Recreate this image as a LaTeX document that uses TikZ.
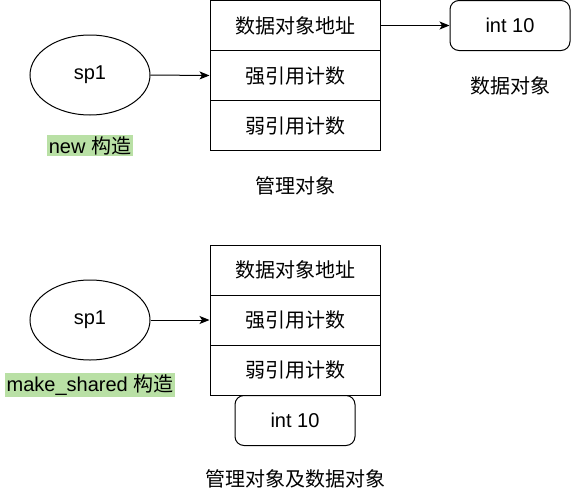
\documentclass[tikz,border=0pt]{standalone}
\usepackage{fontspec}
\setmainfont{Liberation Sans}
\newfontfamily\cjk{Noto Sans CJK SC}
\usetikzlibrary{arrows.meta,shapes.geometric}
\definecolor{lblgreen}{HTML}{B9E0A5}
\tikzset{
  every node/.style={font=\fontsize{20}{24}\selectfont},
  cell/.style={draw, line width=1pt, minimum width=170pt, minimum height=50pt, inner sep=0pt, font=\cjk\fontsize{20}{24}\selectfont},
  ptr/.style={draw, ellipse, line width=1pt, minimum width=120pt, minimum height=80pt, inner sep=0pt},
  databox/.style={draw, rounded corners=9pt, line width=1pt, minimum width=120pt, minimum height=50pt, inner sep=0pt},
  caption/.style={inner sep=0pt, font=\cjk\fontsize{20}{24}\selectfont},
  greenlbl/.style={fill=lblgreen, inner sep=1.5pt},
  conn/.style={line width=1pt, -{Stealth[length=10pt,width=8pt,inset=2.5pt]}}
}
\begin{document}
\begin{tikzpicture}[x=1pt,y=-1pt]
\useasboundingbox (0,0) rectangle (571,493);
% top diagram
\node[cell] (a1) at (295,25.5) {数据对象地址};
\node[cell] (a2) at (295,75.5) {强引用计数};
\node[cell] (a3) at (295,125.5) {弱引用计数};
\node[ptr] (p1) at (90,75) {sp1};
\node[greenlbl] (l1) at (90,145.5) {new {\cjk 构造}};
\node[databox] (d1) at (510,25.5) {int 10};
\node[caption] (c1) at (510,86) {数据对象};
\node[caption] (c2) at (295,186) {管理对象};
\draw[conn] (p1.east) -- (a2.west);
\draw[conn] (a1.east) -- (d1.west);
% bottom diagram
\node[cell] (b1) at (295,270) {数据对象地址};
\node[cell] (b2) at (295,320) {强引用计数};
\node[cell] (b3) at (295,370) {弱引用计数};
\node[ptr] (p2) at (90,320) {sp1};
\node[greenlbl] (l2) at (90,385) {make\_shared {\cjk 构造}};
\node[databox] (d2) at (295,420.5) {int 10};
\node[caption] (c3) at (295,479) {管理对象及数据对象};
\draw[conn] (p2.east) -- (b2.west);
\end{tikzpicture}
\end{document}
